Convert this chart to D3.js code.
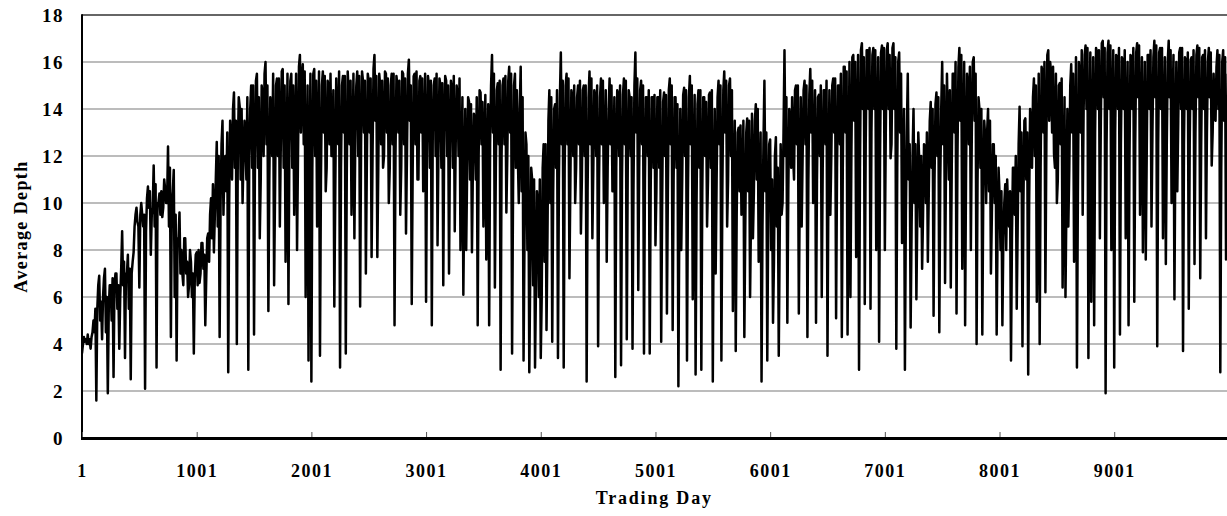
<html>
<head>
<meta http-equiv="Content-Type" content="text/html; charset=utf-8">
<title></title>
<style>
body{ margin:0; background:#fff; }
text{ font-family:"Liberation Serif","Times New Roman",serif; font-weight:bold; fill:#000; }
.depth{ fill:none; stroke:#000; stroke-width:2.5px; stroke-linejoin:round; }
.grid{ stroke:#7a7a7a; stroke-width:1.2px; }
</style>
<script src="https://d3js.org/d3.v7.min.js" charset="utf-8"></script>
</head>
<body>
<div id="chart"></div>
<script>
// average depth, three arrays per 1000 trading days (one value each per 25 days):
// depthK = spikes (peaks / dips), coreK = lower edge of the dense band, topK = upper edge of the band
var step = 25;
var depth0 = [3.6,4.1,4.4,3.8,5.0,1.6,6.9,4.2,7.2,1.9,6.5,2.6,7.0,3.8,8.8,3.4,7.8,2.5,7.9,9.8,6.4,9.5,2.1,10.7,7.8,11.6,3.0,10.4,9.4,10.6,12.4,4.3,11.4,3.3,9.6,7.0,8.5,6.0,7.5,3.6];
var core0  = [4.0,4.2,4.0,4.3,4.5,5.5,5.0,6.0,4.5,5.5,5.0,6.5,5.5,6.0,6.5,7.0,5.5,7.0,9.0,9.2,9.5,9.0,8.8,9.8,9.5,9.0,10.0,9.5,9.8,10.0,9.0,10.0,6.0,8.5,7.0,6.5,7.0,6.5,6.0,6.8];
var top0   = [4.3,4.0,4.2,4.5,5.5,6.5,5.8,6.8,6.0,6.5,6.8,7.0,6.5,7.2,7.5,7.0,7.2,7.5,9.5,9.0,10.0,9.5,10.2,10.5,9.8,10.8,10.0,10.5,11.0,10.0,11.5,10.5,9.5,8.5,8.0,8.5,7.5,8.0,7.0,7.8];
var depth1 = [7.9,6.6,8.3,4.8,8.7,10.2,7.9,12.6,4.3,13.5,12.0,2.8,12.5,14.7,4.0,14.1,10.0,12.6,2.9,15.0,4.4,15.5,8.5,14.5,16.0,5.4,13.5,6.5,15.3,9.0,15.7,7.5,5.7,15.5,9.5,8.0,16.3,15.9,6.0,3.3];
var core1  = [6.5,7.0,7.2,6.8,7.5,8.5,9.5,9.0,10.0,9.5,10.5,10.0,11.0,11.5,12.0,11.0,12.0,11.0,12.0,11.5,12.0,11.5,11.0,12.0,12.5,11.0,12.0,10.5,12.0,12.5,11.5,11.0,12.5,11.5,12.5,12.0,13.0,12.5,11.5,11.0];
var top1   = [8.0,8.3,7.8,8.5,9.5,10.8,11.0,12.0,12.5,11.5,13.0,13.5,14.0,13.5,14.5,14.0,13.5,14.5,14.0,15.0,15.2,14.5,15.0,15.5,15.0,14.5,15.5,15.0,15.3,15.6,15.0,15.5,15.2,15.0,15.5,15.8,15.3,15.6,15.0,15.5];
var depth2 = [2.4,15.7,9.0,3.5,15.6,10.5,15.0,12.0,5.6,13.0,3.0,15.4,3.6,14.7,9.5,8.5,15.6,5.6,15.2,7.0,15.2,7.7,16.3,7.7,15.0,11.5,15.5,10.0,15.5,4.8,15.0,9.5,15.5,8.7,16.1,5.7,15.5,11.0,15.4,10.5];
var core2  = [11.5,12.0,12.5,11.0,13.0,11.5,12.5,12.0,10.5,12.5,11.5,13.0,11.0,12.5,11.5,13.0,12.0,12.5,13.0,11.5,13.0,12.0,13.5,11.5,12.5,12.0,13.0,11.5,12.5,12.0,13.0,11.5,12.5,12.0,13.5,11.5,12.5,11.0,13.0,12.0];
var top2   = [15.5,15.2,15.6,15.0,15.4,15.2,15.5,14.8,15.3,15.6,15.0,15.4,15.6,15.2,15.5,15.0,15.4,15.6,15.2,15.5,15.3,15.7,15.4,15.5,15.2,15.6,15.3,15.0,15.5,15.4,15.2,15.6,15.3,15.5,15.0,15.4,15.6,15.2,15.3,15.5];
var depth3 = [5.8,15.0,4.8,15.3,8.2,15.0,6.5,15.2,7.0,14.8,8.8,14.5,8.0,6.1,8.0,14.3,7.9,13.5,4.8,14.7,9.0,7.6,4.8,16.3,6.4,15.1,2.9,15.3,9.6,15.8,3.6,15.5,12.0,15.8,3.3,12.5,2.8,11.0,3.0,10.0];
var core3  = [12.5,11.5,13.0,12.0,12.5,11.5,13.0,12.0,12.5,11.5,12.5,12.0,11.0,10.5,11.5,11.0,11.5,11.0,12.0,12.5,12.0,11.5,12.5,13.0,11.5,12.5,12.0,12.5,12.0,13.0,10.5,11.5,10.0,10.5,8.5,8.0,7.0,6.5,6.5,6.0];
var top3   = [15.4,15.2,15.0,15.5,15.3,15.1,15.4,15.0,15.2,15.4,15.0,15.3,14.5,14.0,14.5,14.2,13.8,14.5,14.8,14.3,14.6,14.2,15.0,15.5,14.8,15.2,15.0,15.4,15.2,15.5,15.0,14.8,14.0,14.5,13.0,12.0,11.5,11.0,10.5,11.0];
var depth4 = [3.4,12.5,4.6,14.8,4.1,14.2,3.4,16.4,3.0,15.5,6.8,14.5,10.0,15.0,8.7,15.0,2.4,15.6,8.5,14.5,3.9,15.3,10.0,7.5,15.3,10.5,2.6,14.6,3.1,15.3,4.2,14.5,3.8,16.4,6.3,15.2,3.6,14.5,3.6,14.5];
var core4  = [6.0,7.5,8.5,10.0,10.5,11.5,11.0,12.5,11.5,12.5,11.0,12.0,11.5,12.5,11.0,12.0,10.5,12.5,11.5,12.0,11.0,12.5,11.0,11.5,12.5,10.5,11.5,12.0,11.0,12.5,11.5,12.0,10.5,13.0,11.5,12.5,11.0,12.0,10.5,11.5];
var top4   = [11.5,12.5,13.5,14.5,14.0,14.8,14.5,15.2,15.0,15.3,14.8,15.0,14.5,15.2,14.8,15.0,14.5,15.3,14.8,15.0,14.5,15.2,14.8,14.0,15.0,14.5,14.8,15.0,14.6,15.2,14.8,14.5,15.0,15.3,14.8,15.0,14.5,14.8,14.5,14.6];
var depth5 = [8.2,14.5,4.1,14.7,5.3,15.3,4.6,14.5,2.2,8.0,14.9,3.3,15.4,5.9,2.7,14.8,2.9,14.5,9.0,14.7,2.4,7.0,15.2,3.3,15.6,9.0,15.3,5.4,3.7,13.2,9.5,4.3,13.6,6.0,8.5,14.2,7.5,2.4,15.2,3.3];
var core5  = [10.5,11.5,10.0,12.0,10.5,12.5,11.0,11.5,9.5,11.0,12.0,10.5,12.5,11.0,10.0,11.5,10.5,12.0,11.0,11.5,10.0,11.0,12.5,10.5,13.0,11.0,12.0,10.5,9.5,10.5,10.0,9.0,10.5,9.5,10.5,11.0,10.0,9.0,10.5,9.5];
var top5   = [14.5,14.8,14.3,14.6,14.8,15.0,14.5,14.2,14.0,14.6,14.8,14.5,15.0,14.6,14.2,14.8,14.5,14.3,14.6,14.8,14.0,14.5,15.0,14.8,15.2,15.0,14.8,13.5,13.0,13.3,13.5,13.0,13.5,13.8,13.5,14.0,13.0,12.5,13.0,12.5];
var depth6 = [12.7,4.9,12.8,3.5,9.5,16.5,4.9,13.5,12.0,15.0,5.3,9.0,15.2,4.3,15.7,10.0,4.9,14.6,6.0,14.8,3.5,9.5,15.3,5.1,15.0,4.3,15.8,4.4,6.0,16.3,7.7,2.9,16.8,5.7,16.5,5.5,16.6,8.0,4.1,16.7];
var core6  = [8.0,7.5,9.0,8.5,10.0,12.0,10.5,11.5,11.0,12.5,10.5,12.0,12.5,11.0,13.0,11.5,11.0,12.0,11.5,12.5,11.0,12.0,13.0,11.5,12.5,11.5,13.0,11.0,12.0,13.5,12.5,11.5,14.0,12.5,14.0,13.0,14.0,12.5,12.0,14.0];
var top6   = [11.0,12.0,11.5,12.5,13.0,14.5,14.0,14.5,14.8,15.0,14.5,14.8,15.0,14.6,15.2,14.8,14.5,15.0,14.8,15.2,14.8,15.0,15.3,15.0,15.5,15.8,15.6,16.0,16.2,16.0,16.3,16.5,16.2,16.5,16.6,16.3,16.5,16.2,16.4,16.6];
var depth7 = [8.0,16.8,11.9,16.8,3.8,16.4,8.3,2.9,15.5,4.7,14.0,5.9,11.8,7.2,12.4,7.5,14.3,5.2,14.7,4.5,16.0,6.6,13.2,6.4,15.5,5.3,16.6,7.2,4.8,15.0,8.0,16.2,4.0,14.0,4.4,12.8,14.0,7.0,12.5,4.4];
var core7  = [13.0,14.0,12.5,14.0,11.5,13.0,10.5,9.5,11.0,9.0,10.0,9.5,9.0,9.5,10.0,10.5,11.5,11.0,12.0,11.0,12.5,11.5,11.0,11.5,13.0,12.0,13.5,12.0,11.5,12.5,13.0,13.5,11.0,11.5,10.5,10.0,10.5,9.5,10.0,9.0];
var top7   = [16.5,16.3,16.6,16.2,16.0,15.5,14.0,13.0,12.5,12.0,12.5,13.0,12.0,12.5,13.0,13.5,14.0,14.2,14.5,14.0,15.0,15.5,14.8,15.5,16.0,15.8,16.3,16.0,15.5,15.8,16.0,15.5,14.5,14.0,13.5,13.0,13.5,12.5,12.0,11.5];
var depth8 = [10.4,4.8,10.8,9.6,3.3,11.5,5.5,14.1,3.9,13.6,2.7,13.3,15.3,5.8,4.0,15.5,6.2,16.5,15.5,12.1,10.0,15.1,6.4,6.0,9.0,15.9,7.5,3.0,15.3,9.5,16.7,3.4,5.8,4.8,16.4,8.5,16.9,1.9,16.9,8.0];
var core8  = [8.0,8.5,8.0,9.0,8.5,9.5,9.0,10.5,10.0,11.0,10.0,11.5,12.0,11.0,11.5,13.0,12.5,13.5,13.0,11.5,11.0,12.5,10.5,10.0,11.5,13.0,12.0,10.5,13.0,14.0,14.0,12.0,12.5,13.0,14.0,13.5,14.5,12.5,14.0,13.5];
var top8   = [10.5,10.0,11.0,10.5,11.5,12.0,12.5,13.0,13.5,13.0,14.0,14.5,15.0,15.5,15.8,16.0,16.3,16.0,15.8,15.5,15.0,15.3,14.5,14.0,15.0,15.5,16.2,16.0,16.5,16.3,16.6,16.4,16.2,16.6,16.5,16.8,16.6,16.4,16.7,16.5];
var depth9 = [3.0,16.2,4.4,16.0,8.5,4.8,16.2,5.8,16.8,9.5,7.9,7.6,16.3,9.0,16.9,3.9,16.6,8.5,7.4,16.9,10.0,5.9,10.5,16.6,3.7,16.0,5.5,16.2,7.4,16.7,6.8,16.3,8.5,16.6,11.6,13.6,16.5,2.8,16.5,7.6];
var core9  = [13.0,14.0,12.5,14.0,13.0,12.0,14.0,12.5,14.5,13.0,12.5,12.0,14.0,13.0,14.5,12.5,14.0,13.0,12.5,14.5,13.5,12.5,13.5,14.0,12.5,14.0,12.5,14.0,13.0,14.5,12.5,14.0,13.0,14.5,13.0,13.5,14.0,11.5,13.5,10.5];
var top9   = [16.3,16.6,16.2,16.5,16.0,16.3,16.6,16.4,16.7,16.2,16.0,16.3,16.5,16.2,16.7,16.4,16.6,16.2,16.0,16.5,16.3,16.0,16.4,16.6,16.2,16.4,16.1,16.5,16.3,16.6,16.2,16.5,16.0,16.4,15.5,15.8,16.3,16.0,16.2,15.5];

var yTicks = [0,2,4,6,8,10,12,14,16,18];
var xTicks = [1,1001,2001,3001,4001,5001,6001,7001,8001,9001];
var xTitle = "Trading Day";
var yTitle = "Average Depth";

var width = 1227, height = 516;
var plotLeft = 82, plotRight = 1226.5, plotTop = 15, plotBottom = 438;

var spikes = [depth0,depth1,depth2,depth3,depth4,depth5,depth6,depth7,depth8,depth9];
var cores = [core0,core1,core2,core3,core4,core5,core6,core7,core8,core9];
var tops = [top0,top1,top2,top3,top4,top5,top6,top7,top8,top9];
var data = [];
spikes.forEach(function(seg, k){
	seg.forEach(function(v, i){
		var day = k*1000 + 1 + i*step;
		data.push({day: day, depth: v});
		data.push({day: day + step/3, depth: cores[k][i]});
		data.push({day: day + 2*step/3, depth: tops[k][i]});
	});
});

var x = d3.scaleLinear().domain([1, 9980]).range([plotLeft, plotRight]);
var y = d3.scaleLinear().domain([0, 18]).range([plotBottom, plotTop]);

var svg = d3.select('#chart').append('svg')
	.attr('width', width)
	.attr('height', height);

svg.append('defs').append('clipPath').attr('id', 'plot')
	.append('rect')
	.attr('x', plotLeft).attr('y', plotTop - 2)
	.attr('width', width - plotLeft).attr('height', plotBottom - plotTop + 2);

// gridlines
svg.append('g').selectAll('line')
	.data(yTicks.filter(function(d){ return d > 0 && d < 18; }))
	.enter().append('line')
	.attr('class', 'grid')
	.attr('x1', plotLeft).attr('x2', width)
	.attr('y1', function(d){ return y(d); })
	.attr('y2', function(d){ return y(d); });

var line = d3.line()
	.x(function(d){ return x(d.day); })
	.y(function(d){ return y(d.depth); });

svg.append('path')
	.datum(data)
	.attr('class', 'depth')
	.attr('clip-path', 'url(#plot)')
	.attr('d', line);

// frame
svg.append('line').attr('x1', plotLeft).attr('x2', width).attr('y1', plotTop).attr('y2', plotTop)
	.attr('stroke', '#333').attr('stroke-width', 1.5);
svg.append('line').attr('x1', plotLeft).attr('x2', plotLeft).attr('y1', plotTop - 0.75).attr('y2', plotBottom + 1.5)
	.attr('stroke', '#000').attr('stroke-width', 2);

// y axis
var yAxis = svg.append('g')
	.attr('transform', 'translate(' + plotLeft + ',0)')
	.call(d3.axisLeft(y).tickValues(yTicks).tickSize(0).tickPadding(18));
yAxis.select('.domain').remove();
yAxis.selectAll('text')
	.style('font-family', '"Liberation Serif","Times New Roman",serif')
	.style('font-weight', 'bold')
	.style('font-size', '19px')
	.style('letter-spacing', '1.5px');

// x axis, ticks pointing up into the plot
var xAxis = svg.append('g')
	.attr('transform', 'translate(0,' + plotBottom + ')')
	.call(d3.axisBottom(x).tickValues(xTicks).tickFormat(d3.format('d')).tickSizeInner(-6).tickSizeOuter(0).tickPadding(26));
xAxis.select('.domain').remove();
xAxis.selectAll('.tick line').attr('stroke', '#555');
xAxis.selectAll('text')
	.style('font-family', '"Liberation Serif","Times New Roman",serif')
	.style('font-weight', 'bold')
	.style('font-size', '18px')
	.style('letter-spacing', '1.5px');

svg.append('line').attr('x1', plotLeft - 1).attr('x2', width).attr('y1', plotBottom + 0.5).attr('y2', plotBottom + 0.5)
	.attr('stroke', '#000').attr('stroke-width', 3);

// titles
svg.append('text')
	.attr('x', (plotLeft + plotRight) / 2)
	.attr('y', 504)
	.attr('text-anchor', 'middle')
	.style('font-size', '18px')
	.style('letter-spacing', '1.8px')
	.text(xTitle);

svg.append('text')
	.attr('transform', 'translate(27,' + ((plotTop + plotBottom) / 2) + ') rotate(-90)')
	.attr('text-anchor', 'middle')
	.style('font-size', '18px')
	.style('letter-spacing', '1.4px')
	.text(yTitle);
</script>
</body>
</html>
